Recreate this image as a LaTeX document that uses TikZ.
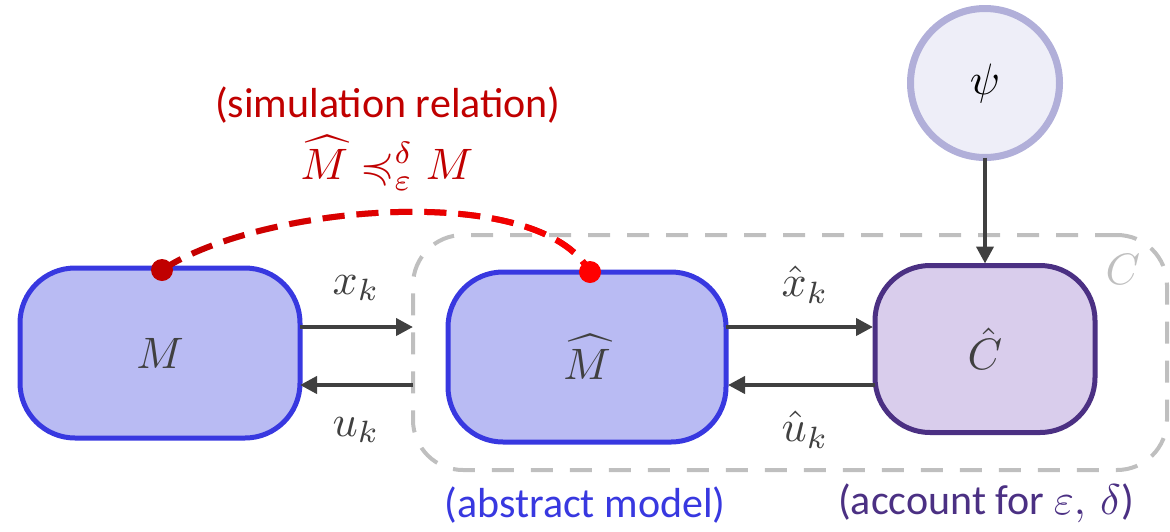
\documentclass[tikz,border=0pt]{standalone}
\usepackage{amssymb}
\usepackage{graphicx}
\usepackage{fontspec}
\setmainfont{Carlito}
\usetikzlibrary{arrows.meta,fadings}
\definecolor{cblue}{HTML}{3838E0}
\definecolor{cbluefill}{HTML}{B9BBF3}
\definecolor{cpurple}{HTML}{4B3083}
\definecolor{cpurplefill}{HTML}{D9CDEC}
\definecolor{ctext}{HTML}{404040}
\definecolor{cgray}{HTML}{BFBFBF}
\definecolor{cpsi}{HTML}{B1AFD9}
\definecolor{cpsifill}{HTML}{EEEEF8}
\definecolor{cdred}{HTML}{C00000}
\definecolor{cred}{HTML}{FF0000}
\newcommand\bm[1]{\scalebox{4.4}{\normalsize$#1$}}
\newcommand\sm[1]{\scalebox{4.3}{\normalsize$#1$}}
\newcommand\txtsz{\fontsize{42}{46}\selectfont}
\tikzfading[name=fadeleft, left color=transparent!100, right color=transparent!0]
\begin{document}
\begin{tikzpicture}[x=1pt,y=-1pt,
  every node/.style={inner sep=0pt,outer sep=0pt},
  bluebox/.style={draw=cblue, fill=cbluefill, line width=5pt, rounded corners=55pt,
    minimum width=280pt, minimum height=170pt, text=ctext},
  purplebox/.style={draw=cpurple, fill=cpurplefill, line width=5pt, rounded corners=55pt,
    minimum width=220pt, minimum height=167pt, text=ctext},
  psicirc/.style={circle, draw=cpsi, fill=cpsifill, line width=7pt, minimum size=149pt,
    text=black},
  cbox/.style={draw=cgray, line width=4pt, rounded corners=50pt, dash pattern=on 22pt off 17pt,
    minimum width=754pt, minimum height=235pt},
  arr/.style={draw=ctext, line width=4pt, -{Triangle[length=17pt,width=17pt]}},
  redline/.style={line width=6pt, dash pattern=on 22pt off 12pt},
  dot/.style={circle, minimum size=22pt},
  mlabel/.style={text=ctext},
  txt/.style={font=\txtsz}
]
\useasboundingbox (0,0) rectangle (1170,531);
% container
\node[cbox] (Cb) at (790,352.5) {};
\node[text=cgray] (Cl) at (1123,269) {\bm{C}};
% boxes
\node[bluebox] (M) at (160,353) {\bm{M}};
\node[bluebox, minimum width=278pt] (Mh) at (587,357) {\bm{\widehat{M}}};
\node[purplebox] (Ch) at (985,349) {\bm{\hat{C}}};
\node[psicirc] (psi) at (985,83) {\bm{\psi}};
% arrows
\coordinate (y1) at (0,327);
\coordinate (y2) at (0,385);
\coordinate (xe) at (413,327);
\coordinate (ue) at (413,385);
\draw[arr] (M.east |- y1) -- (xe);
\draw[arr] (ue) -- (M.east |- y2);
\draw[arr, shorten >=2pt] (Mh.east |- y1) -- (Ch.west |- y1);
\draw[arr, shorten >=2pt] (Ch.west |- y2) -- (Mh.east |- y2);
\draw[arr, shorten >=2pt] (psi.south) -- (Ch.north);
% labels
\node[mlabel] (lx) at (356,288) {\bm{x_k}};
\node[mlabel] (lu) at (356,430) {\bm{u_k}};
\node[mlabel] (lxh) at (805,285) {\bm{\hat{x}_k}};
\node[mlabel] (luh) at (805,430) {\bm{\hat{u}_k}};
% simulation relation
\node[dot] (d1) at (162,270) {};
\node[dot] (d2) at (590,272) {};
\draw[redline, draw=cdred] (d1.center) .. controls (260,205) and (540,180) .. (d2.center);
\path[redline, draw=cred, path fading=fadeleft] (d1.center) .. controls (260,205) and (540,180) .. (d2.center);
\fill[cdred] (d1) circle (11pt);
\fill[cred] (d2) circle (11pt);
\node[txt, text=cdred] (sim) at (388,105) {(simulation relation)};
\node[text=cdred] (rel) at (387,163) {\bm{\widehat{M} \preccurlyeq^{\delta}_{\varepsilon} M}};
% captions
\node[txt, text=cblue] (abs) at (585,505) {(abstract model)};
\node[txt, text=cpurple] (acc) at (986,503) {(account for \sm{\varepsilon,\,\delta})};
\end{tikzpicture}
\end{document}
